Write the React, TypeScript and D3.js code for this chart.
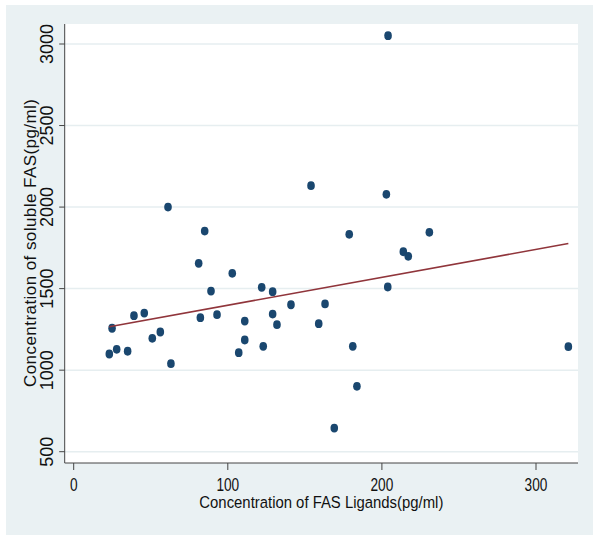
import React from "react";
import * as d3 from "d3";

// Data
const ligands = [23.1, 24.9, 27.9, 35.0, 39.1, 45.8, 51.0, 56.2, 61.2, 63.1, 81.1, 82.2, 85.0, 89.1, 93.0, 102.9, 107.1, 111.0, 111.0, 122.0, 123.0, 129.1, 129.1, 131.9, 141.0, 154.0, 202.9, 178.8, 230.8, 213.9, 217.1, 203.8, 163.1, 159.0, 181.1, 183.8, 169.1, 204.0, 321.0];
const solubleFas = [1099, 1257, 1128, 1116, 1334, 1350, 1195, 1234, 2000, 1040, 1655, 1322, 1853, 1485, 1340, 1594, 1107, 1301, 1185, 1508, 1146, 1481, 1344, 1279, 1401, 2131, 2078, 1833, 1845, 1726, 1698, 1510, 1406, 1285, 1146, 901, 645, 3051, 1144];
const xTicks = [0, 100, 200, 300];
const yTicks = [500, 1000, 1500, 2000, 2500, 3000];
const xTitle = "Concentration of FAS Ligands(pg/ml)";
const yTitle = "Concentration of soluble FAS(pg/ml)";

const W = 600;
const H = 536;
const plotL = 64.7;
const plotR = 578;
const plotT = 24;
const plotB = 463;

const x = d3.scaleLinear().domain([0, 300]).range([73.7, 536]);
const y = d3.scaleLinear().domain([500, 3000]).range([451.7, 44]);

const FONT = "'Liberation Sans', Arial, sans-serif";

export default function App() {
  const pts = ligands.map((v, i) => ({ x: v, y: solubleFas[i] }));
  const mx = d3.mean(pts, (p) => p.x) as number;
  const my = d3.mean(pts, (p) => p.y) as number;
  const sxy = d3.sum(pts, (p) => (p.x - mx) * (p.y - my));
  const sxx = d3.sum(pts, (p) => (p.x - mx) * (p.x - mx));
  const slope = sxy / sxx;
  const icpt = my - slope * mx;
  const [xmin, xmax] = d3.extent(ligands) as [number, number];
  const fitLine = d3
    .line<number>()
    .x((v) => x(v))
    .y((v) => y(icpt + slope * v))([xmin, xmax]);

  return (
    <svg width={W} height={H} style={{ position: "absolute", left: 0, top: 0 }}>
      <rect x={0} y={0} width={W} height={H} fill="#ffffff" />
      <rect x={6} y={5} width={587} height={530} fill="#eaf1f3" />
      <rect x={plotL} y={plotT} width={plotR - plotL} height={plotB - plotT} fill="#ffffff" />
      {yTicks.map((t) => (
        <line key={"g" + t} x1={plotL} x2={plotR} y1={y(t)} y2={y(t)} stroke="#e6eef0" strokeWidth={1.5} />
      ))}
      <line x1={plotL} x2={plotL} y1={plotT} y2={plotB} stroke="#444" strokeWidth={1} />
      <line x1={plotL} x2={plotR} y1={plotB} y2={plotB} stroke="#444" strokeWidth={1} />
      {yTicks.map((t) => (
        <g key={"y" + t}>
          <line x1={plotL - 5.5} x2={plotL} y1={y(t)} y2={y(t)} stroke="#444" strokeWidth={1} />
          <text
            transform={`translate(53,${y(t)}) rotate(-90)`}
            textAnchor="middle"
            fontFamily={FONT}
            fontSize={18}
            fill="#111"
          >
            {t}
          </text>
        </g>
      ))}
      {xTicks.map((t) => (
        <g key={"x" + t}>
          <line x1={x(t)} x2={x(t)} y1={plotB} y2={plotB + 7} stroke="#444" strokeWidth={1} />
          <text
            transform={`translate(${x(t)},490.5) scale(0.72,1)`}
            textAnchor="middle"
            fontFamily={FONT}
            fontSize={19}
            fill="#111"
          >
            {t}
          </text>
        </g>
      ))}
      <text
        x={(plotL + plotR) / 2}
        y={508}
        textAnchor="middle"
        fontFamily={FONT}
        fontSize={16.3}
        textLength={244}
        lengthAdjust="spacingAndGlyphs"
        fill="#111"
      >
        {xTitle}
      </text>
      <text
        transform={`translate(35.5,243) rotate(-90)`}
        textAnchor="middle"
        fontFamily={FONT}
        fontSize={17}
        textLength={288}
        lengthAdjust="spacing"
        fill="#111"
      >
        {yTitle}
      </text>
      {pts.map((p, i) => (
        <ellipse key={i} cx={x(p.x)} cy={y(p.y)} rx={3.8} ry={4.4} fill="#1a476f" />
      ))}
      <path d={fitLine || ""} fill="none" stroke="#90353b" strokeWidth={1.6} />
    </svg>
  );
}
